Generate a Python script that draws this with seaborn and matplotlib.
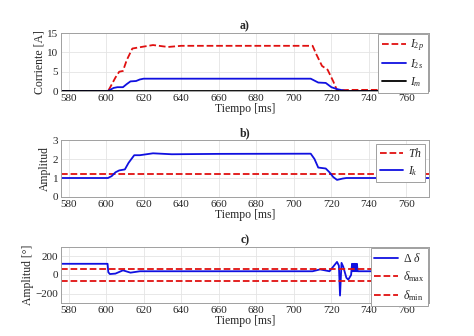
import matplotlib
matplotlib.use("Agg")
import matplotlib.pyplot as plt
import seaborn as sns
import numpy as np

sns.set_theme(style="whitegrid")
plt.rcParams['font.family'] = ['Liberation Serif', 'DejaVu Serif']
plt.rcParams['mathtext.fontset'] = 'custom'
plt.rcParams['mathtext.rm'] = 'Liberation Serif'
plt.rcParams['mathtext.it'] = 'Liberation Serif:italic'
plt.rcParams['mathtext.bf'] = 'Liberation Serif:bold'

# ---- Data ----
t_i2p = [576, 601, 602, 605, 607, 609, 611, 614, 620, 625, 633, 640, 700, 710, 712, 715, 718, 721, 723, 730, 772]
i2p = [0, 0, 0.8, 3.5, 5.0, 5.2, 8.0, 11.0, 11.5, 11.9, 11.4, 11.7, 11.7, 11.7, 9.5, 6.5, 5.5, 2.5, 0.2, 0.3, 0.3]

t_i2s = [576, 601, 604, 606, 609, 611, 613, 616, 618, 620, 709, 711, 713, 717, 720, 723, 726, 728, 772]
i2s = [0, 0, 0.8, 1.0, 1.0, 1.8, 2.5, 2.6, 3.0, 3.2, 3.2, 2.7, 2.2, 2.1, 1.0, 0.5, 0.2, 0.0, 0.0]

t_im = [576, 772]
im = [0, 0]

t_ik = [576, 601, 603, 605, 607, 610, 612, 615, 618, 625, 635, 660, 709, 711, 713, 717, 719, 721, 723, 726, 728, 772]
ik = [1.0, 1.0, 1.1, 1.3, 1.4, 1.45, 1.8, 2.2, 2.2, 2.3, 2.25, 2.27, 2.28, 2.0, 1.55, 1.5, 1.3, 1.05, 0.9, 0.97, 1.0, 1.0]
th_value = 1.2

t_dd = [576, 600.8, 601.2, 602, 605, 609, 613, 618, 650, 710, 714, 719, 723, 724, 724.6, 725.4, 726.3,
        728, 729, 730.5, 731, 731.3, 731.6, 732, 732.3, 732.6, 733, 733.3, 733.6, 734, 740, 772]
dd = [120, 120, 30, 10, 15, 50, 25, 40, 40, 40, 60, 40, 140, 100, -220, 130, 90,
      -30, -50, 0, 120, 40, 120, 40, 120, 40, 120, 40, 120, 40, 40, 40]
dmax_value = 60
dmin_value = -60

xticks = [580, 600, 620, 640, 660, 680, 700, 720, 740, 760]
xlim = (576, 772)

red = '#e01010'
blue = '#1010e0'

fig = plt.figure(figsize=(4.74, 3.36), dpi=100)
fig.patch.set_facecolor('white')

def style(ax, ylim, yticks, ylabel, title):
    ax.set_facecolor('white')
    ax.set_xlim(*xlim)
    ax.set_ylim(*ylim)
    ax.set_xticks(xticks)
    ax.set_yticks(yticks)
    ax.tick_params(labelsize=8, direction='in', length=2, pad=2, colors='#262626')
    ax.grid(True, color='#e4e4e4', linewidth=0.6)
    for s in ax.spines.values():
        s.set_color('#a0a0a0')
        s.set_linewidth(0.7)
    ax.set_xlabel('Tiempo [ms]', fontsize=8.5, labelpad=0, color='#262626')
    ax.set_ylabel(ylabel, fontsize=8.5, labelpad=1, color='#262626')
    ax.set_title(title, fontsize=8.5, fontweight='bold', pad=3)

def leg(ax, pad=0.1, **kw):
    lg = ax.legend(loc='upper right', fancybox=False, framealpha=1, edgecolor='#a0a0a0',
                   fontsize=8.5, handlelength=2.0, handletextpad=0.4, borderaxespad=pad,
                   borderpad=0.3, labelspacing=0.35, **kw)
    lg.get_frame().set_linewidth(0.7)

# a)
ax1 = fig.add_axes([0.1287, 0.729, 0.7764, 0.1726])
sns.lineplot(x=t_i2p, y=i2p, ax=ax1, color=red, linestyle='--', linewidth=1.3, label='$I_{2p}$')
sns.lineplot(x=t_i2s, y=i2s, ax=ax1, color=blue, linewidth=1.3, label='$I_{2s}$')
sns.lineplot(x=t_im, y=im, ax=ax1, color='black', linewidth=1.3, label='$I_{m}$')
style(ax1, (0, 15), [0, 5, 10, 15], 'Corriente [A]', 'a)')
leg(ax1)

# b)
ax2 = fig.add_axes([0.1287, 0.4137, 0.7764, 0.1696])
ax2.axhline(th_value, color=red, linestyle='--', linewidth=1.3, label='$Th$')
sns.lineplot(x=t_ik, y=ik, ax=ax2, color=blue, linewidth=1.3, label='$I_{k}$')
style(ax2, (0, 3), [0, 1, 2, 3], 'Amplitud', 'b)')
leg(ax2, pad=0.3)

# c)
ax3 = fig.add_axes([0.1287, 0.0982, 0.7764, 0.1667])
sns.lineplot(x=t_dd, y=dd, ax=ax3, color=blue, linewidth=1.3, label='Δ $\\delta$', sort=False, estimator=None)
ax3.axhline(dmax_value, color=red, linestyle='--', linewidth=1.3, label='$\\delta_{\\mathrm{max}}$')
ax3.axhline(dmin_value, color=red, linestyle='--', linewidth=1.3, label='$\\delta_{\\mathrm{min}}$')
style(ax3, (-300, 300), [-200, 0, 200], 'Amplitud [°]', 'c)')
leg(ax3)

fig.savefig('out.png', dpi=100, facecolor='white')
